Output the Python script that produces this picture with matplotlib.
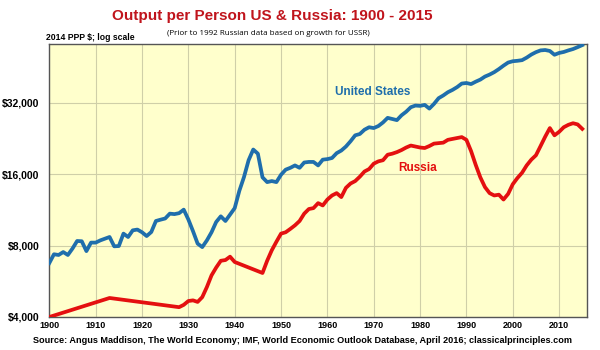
import matplotlib
matplotlib.use("Agg")
import matplotlib.pyplot as plt
from matplotlib.ticker import FixedLocator, FixedFormatter, NullLocator

plt.rcParams['font.family'] = ['Liberation Sans', 'DejaVu Sans']

us_years = list(range(1900, 2016))
us_values = [6750, 7350, 7300, 7510, 7300, 7770, 8360, 8340, 7580, 8230,
             8230, 8410, 8550, 8690, 7940, 7960, 8980, 8690, 9270, 9340,
             9100, 8770, 9120, 10150, 10280, 10400, 10900, 10850, 10950, 11330,
             10300, 9200, 8150, 7880, 8410, 9100, 10050, 10620, 10150, 10800,
             11500, 13600, 15540, 18300, 20300, 19500, 15500, 14800, 14950, 14800,
             15900, 16700, 17000, 17400, 17000, 17900, 18000, 18000, 17400, 18400,
             18500, 18700, 19600, 20100, 20900, 22000, 23300, 23600, 24600, 25200,
             25000, 25500, 26400, 27600, 27300, 27000, 28300, 29300, 30600, 31100,
             31000, 31300, 30200, 31600, 33400, 34300, 35400, 36200, 37200, 38500,
             38700, 38300, 39200, 40000, 41200, 42000, 43000, 44300, 45800, 47200,
             47800, 48000, 48300, 49500, 51000, 52200, 53100, 53300, 52800, 50900,
             51800, 52300, 53100, 53800, 54800, 55900]

ru_years = [1900, 1913, 1928, 1929, 1930, 1931, 1932, 1933, 1934, 1935, 1936,
            1937, 1938, 1939, 1940] + list(range(1946, 2016))
ru_values = [4000, 4810, 4400, 4500, 4670, 4700, 4630, 4850, 5350, 5990, 6460,
             6900, 6950, 7180, 6820,
             6130, 6900, 7640, 8300, 8980, 9100, 9400, 9730, 10150, 10900,
             11400, 11500, 12070, 11800, 12500, 13000, 13300, 12800, 14000, 14600,
             14950, 15600, 16400, 16800, 17700, 18100, 18300, 19300, 19500, 19800,
             20200, 20700, 21100, 20900, 20700, 20600, 21000, 21500, 21600, 21700,
             22300, 22500, 22700, 22900, 22300, 20000, 17500, 15500, 14100, 13300,
             13000, 13100, 12500, 13200, 14500, 15400, 16200, 17400, 18400, 19200,
             21000, 23000, 25000, 23300, 24100, 25200, 25800, 26200, 25900, 24800]

y_ticks = [4000, 8000, 16000, 32000]
y_labels = ['$4,000', '$8,000', '$16,000', '$32,000']
x_ticks = list(range(1900, 2020, 10))
x_labels = [str(t) for t in x_ticks]

fig = plt.figure(figsize=(6, 3.5), dpi=100)
ax = fig.add_axes([0.0822, 0.0943, 0.896, 0.780])
ax.set_facecolor('#FFFFCC')

ax.plot(us_years, us_values, color='#1F6EAC', lw=2.7, solid_joinstyle='round', zorder=3)
ax.plot(ru_years, ru_values, color='#E41010', lw=2.7, solid_joinstyle='round', zorder=3)

ax.set_yscale('log')
ax.set_xlim(1900, 2016)
ax.set_ylim(4000, 56500)
ax.yaxis.set_major_locator(FixedLocator(y_ticks))
ax.yaxis.set_major_formatter(FixedFormatter(y_labels))
ax.yaxis.set_minor_locator(NullLocator())
ax.xaxis.set_major_locator(FixedLocator(x_ticks))
ax.xaxis.set_major_formatter(FixedFormatter(x_labels))
ax.grid(True, color='#CFCFA8', lw=0.8, zorder=0)
ax.tick_params(axis='y', length=0, pad=7)
ax.tick_params(axis='x', length=0, pad=3)
for lab in ax.get_yticklabels():
    lab.set_fontsize(7.5); lab.set_fontweight('bold')
for lab in ax.get_xticklabels():
    lab.set_fontsize(6.5); lab.set_fontweight('bold')
for s in ax.spines.values():
    s.set_color('#555555'); s.set_linewidth(1.0)

ax.text(1961.7, 35300, 'United States', color='#1F6EAC', fontsize=8.5, fontweight='bold', ha='left', va='center')
ax.text(1975.2, 16900, 'Russia', color='#E41010', fontsize=8.5, fontweight='bold', ha='left', va='center')

fig.text(0.453, 0.955, 'Output per Person US & Russia: 1900 - 2015', color='#C0141C',
         fontsize=11, fontweight='bold', ha='center', va='center')
fig.text(0.448, 0.905, '(Prior to 1992 Russian data based on growth for USSR)',
         fontsize=5.75, ha='center', va='center', family=['Open Sans', 'DejaVu Sans'])
fig.text(0.076, 0.893, '2014 PPP $; log scale', fontsize=6.2, fontweight='bold', ha='left', va='center')
fig.text(0.504, 0.028, 'Source: Angus Maddison, The World Economy; IMF, World Economic Outlook Database, April 2016; classicalprinciples.com',
         fontsize=6.6, fontweight='bold', ha='center', va='center')

fig.savefig('out.png', dpi=100)
